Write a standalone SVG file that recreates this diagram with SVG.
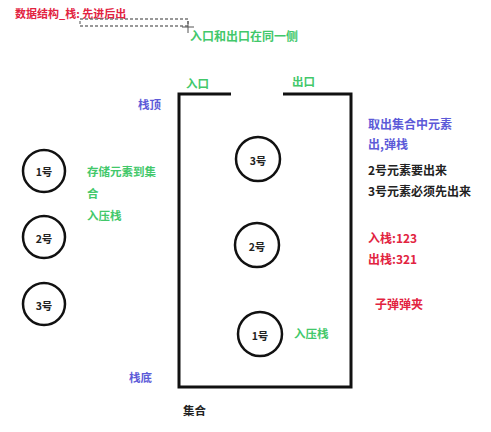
<svg xmlns="http://www.w3.org/2000/svg" width="491" height="432" viewBox="0 0 491 432">
<style>
text{font-family:"Noto Sans CJK SC","Liberation Sans",sans-serif;font-size:11.5px;font-weight:bold;dominant-baseline:central}
.r{fill:#e2233f}.g{fill:#42c86a}.b{fill:#5c5ad8}.k{fill:#222}
.rt{font-size:12px}
.c{fill:#fff;stroke:#111;stroke-width:2.5}
.box{fill:none;stroke:#111;stroke-width:3}
.ct{text-anchor:middle;font-size:10.5px}
</style>
<rect width="491" height="432" fill="#fff"/>
<text class="r" x="15" y="13" style="font-size:11px">数据结构_栈: 先进后出</text>
<rect x="80" y="19" width="108" height="7" fill="none" stroke="#777" stroke-width="1.3" stroke-dasharray="3,2"/>
<path d="M182 27H194M188 21V33" stroke="#555" stroke-width="1"/>
<text class="g" x="190" y="35" style="font-size:12px">入口和出口在同一侧</text>
<g id="container">
<path class="box" d="M231 94H179V387H351V94H283"/>
<text class="g" x="186" y="83">入口</text>
<text class="g" x="292" y="81">出口</text>
<text class="k" x="183" y="410">集合</text>
</g>
<text class="b" x="138" y="104">栈顶</text>
<text class="b" x="129" y="377">栈底</text>
<g id="l1"><circle class="c" cx="44" cy="171" r="21"/><text class="k ct" x="44" y="171">1号</text></g>
<g id="l2"><circle class="c" cx="44" cy="237" r="21"/><text class="k ct" x="44" y="238">2号</text></g>
<g id="l3"><circle class="c" cx="44" cy="304" r="21"/><text class="k ct" x="44" y="305">3号</text></g>
<text class="g" x="87" y="171">存储元素到集</text>
<text class="g" x="87" y="193">合</text>
<text class="g" x="87" y="215">入压栈</text>
<g id="s3"><circle class="c" cx="258" cy="159" r="22"/><text class="k ct" x="258" y="160">3号</text></g>
<g id="s2"><circle class="c" cx="257" cy="245" r="22"/><text class="k ct" x="257" y="246">2号</text></g>
<g id="s1"><circle class="c" cx="260" cy="334" r="22"/><text class="k ct" x="260" y="335">1号</text></g>
<text class="g" x="294" y="333">入压栈</text>
<text class="b rt" x="368" y="123">取出集合中元素</text>
<text class="b rt" x="368" y="143">出,弹栈</text>
<text class="k rt" x="368" y="169">2号元素要出来</text>
<text class="k rt" x="368" y="190">3号元素必须先出来</text>
<text class="r rt" x="368" y="237">入栈:123</text>
<text class="r rt" x="368" y="258">出栈:321</text>
<text class="r rt" x="375" y="303">子弹弹夹</text>
</svg>
